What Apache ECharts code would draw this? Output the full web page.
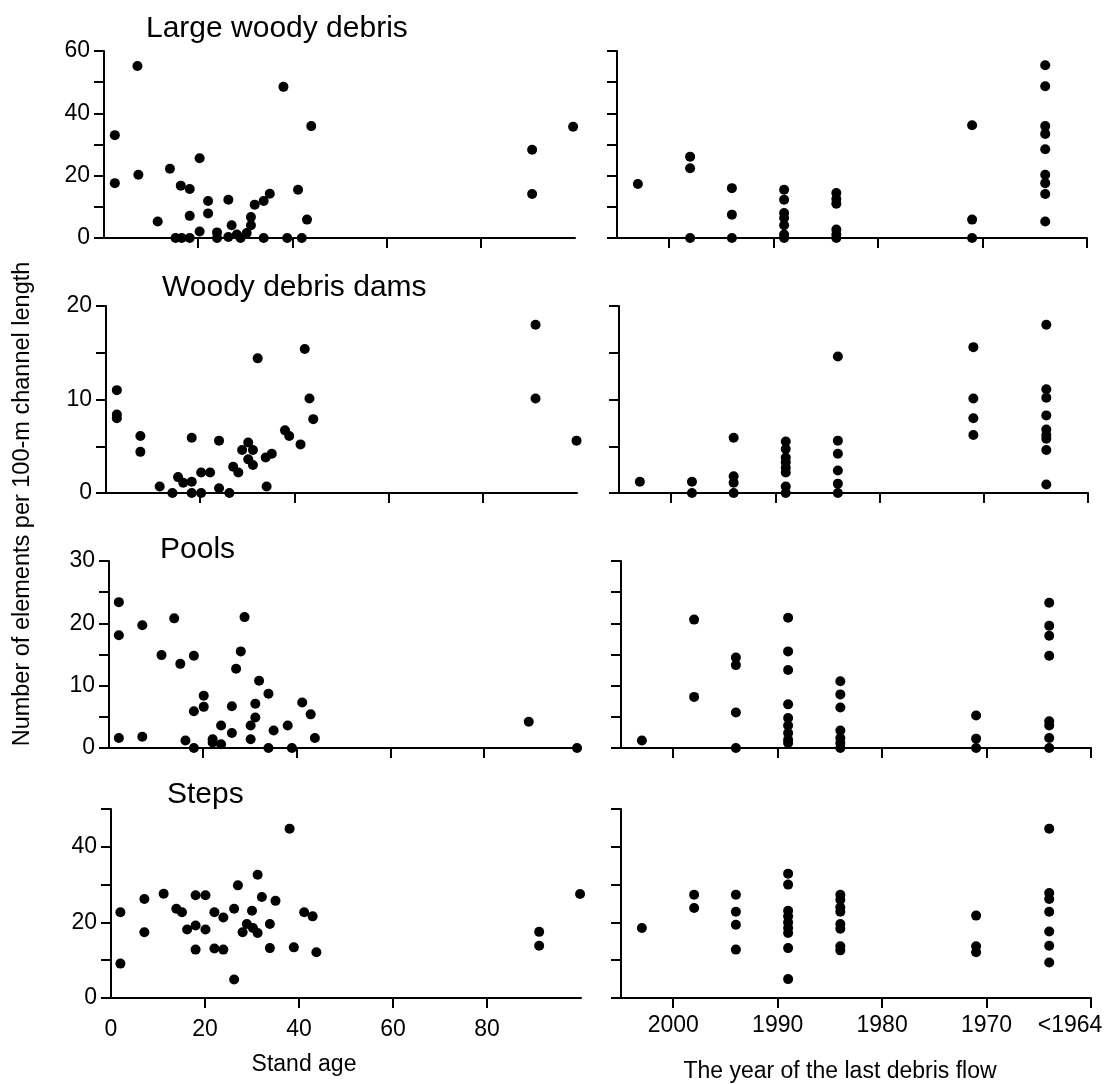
<!DOCTYPE html>
<html>
<head>
<meta charset="utf-8">
<script src="https://cdn.jsdelivr.net/npm/echarts@6/dist/echarts.min.js"></script>
<style>
  html, body { margin: 0; padding: 0; background: #fff; }
  #chart { width: 1110px; height: 1084px; }
</style>
</head>
<body>
<div id="chart"></div>
<script>
// ---- data: stand age panels, [stand age, count per 100 m] ----
var lwdByAge = [
    [2.3, 33.0], [2.3, 17.6], [7.1, 55.2], [7.3, 20.3], [11.4, 5.3], [14.0, 22.2],
    [16.3, 16.8], [18.2, 15.7], [18.2, 7.1], [15.2, 0], [16.5, 0], [18.2, 0],
    [20.3, 25.6], [20.3, 2.1], [22.1, 11.9], [22.1, 7.9], [24.0, 1.8], [24.0, 0],
    [26.4, 12.3], [27.1, 4.1], [26.4, 0.3], [28.2, 1.1], [29.0, 0], [30.3, 1.6],
    [31.2, 6.7], [31.2, 4.1], [32.0, 10.7], [33.9, 11.9], [33.9, 0], [35.2, 14.2],
    [38.1, 48.5], [38.9, 0], [41.2, 15.5], [42.0, 0], [43.1, 5.9], [44.0, 35.9],
    [90.9, 28.3], [90.9, 14.1], [99.6, 35.7]
];
var damsByAge = [
    [2.3, 11.0], [2.3, 8.4], [2.3, 8.0], [7.3, 6.1], [7.3, 4.4], [11.4, 0.7],
    [14.1, 0], [15.3, 1.7], [16.4, 1.1], [18.2, 5.9], [18.2, 1.2], [18.2, 0],
    [20.2, 2.2], [20.2, 0], [22.1, 2.2], [24.0, 5.6], [24.0, 0.5], [26.2, 0],
    [27.0, 2.8], [28.1, 2.2], [28.9, 4.6], [30.2, 5.4], [30.2, 3.6], [31.2, 4.6],
    [31.2, 3.0], [32.2, 14.4], [33.9, 3.8], [34.1, 0.7], [35.2, 4.2], [38.0, 6.7],
    [38.9, 6.1], [41.3, 5.2], [42.2, 15.4], [43.2, 10.1], [44.0, 7.9],
    [91.2, 18.0], [91.2, 10.1], [99.9, 5.6]
];
var poolsByAge = [
    [2.1, 23.4], [2.1, 18.1], [2.1, 1.6], [7.1, 19.7], [7.1, 1.8], [11.2, 14.9],
    [13.9, 20.8], [15.2, 13.5], [16.3, 1.2], [18.1, 14.8], [18.1, 5.9], [18.1, 0],
    [20.2, 8.4], [20.2, 6.6], [22.1, 1.4], [22.1, 0.9], [23.9, 3.6], [23.9, 0.6],
    [26.2, 6.7], [26.2, 2.4], [27.1, 12.7], [28.1, 15.5], [28.9, 21.0], [30.2, 3.6],
    [30.2, 1.4], [31.2, 7.1], [31.2, 4.9], [32.0, 10.8], [34.0, 8.7], [34.0, 0],
    [35.1, 2.8], [38.1, 3.6], [39.0, 0], [41.2, 7.3], [43.0, 5.4], [43.9, 1.6],
    [89.5, 4.2], [99.8, 0]
];
var stepsByAge = [
    [2.0, 22.7], [2.0, 9.1], [7.1, 26.2], [7.1, 17.4], [11.2, 27.6], [13.9, 23.6],
    [15.1, 22.7], [16.2, 18.1], [18.0, 27.2], [18.0, 19.2], [18.0, 12.8], [20.1, 27.2],
    [20.1, 18.1], [22.0, 22.7], [22.0, 13.1], [23.9, 21.3], [23.9, 12.8], [26.2, 23.6],
    [26.2, 4.9], [27.0, 29.8], [28.0, 17.4], [28.9, 19.6], [30.0, 23.1], [30.2, 18.5],
    [31.2, 32.6], [31.2, 17.2], [32.1, 26.7], [33.8, 19.6], [33.8, 13.2], [35.0, 25.7],
    [38.0, 44.8], [38.9, 13.4], [41.1, 22.7], [42.9, 21.6], [43.7, 12.1],
    [91.1, 17.5], [91.1, 13.8], [99.8, 27.5]
];

// ---- data: year of last debris flow panels ----
var flowYears = [2003, 1998, 1994, 1989, 1984, 1971, 1964];
var lwdByYear = [
    [17.3],
    [26.1, 22.4, 0],
    [16.0, 7.5, 0],
    [15.5, 12.3, 8.0, 6.4, 4.1, 1.1, 0],
    [14.4, 12.5, 11.0, 2.7, 1.1, 0],
    [36.2, 5.9, 0],
    [55.4, 48.7, 35.9, 33.4, 28.5, 20.3, 17.6, 14.1, 5.3]
];
var damsByYear = [
    [1.2],
    [1.2, 0],
    [5.9, 1.8, 1.1, 0],
    [5.5, 4.7, 3.8, 3.3, 2.7, 2.2, 0.7, 0],
    [14.6, 5.6, 4.2, 2.4, 1.0, 0],
    [15.6, 10.1, 8.0, 6.2],
    [18.0, 11.1, 10.2, 8.3, 6.8, 6.2, 5.8, 4.6, 0.9]
];
var poolsByYear = [
    [1.2],
    [20.6, 8.2],
    [14.5, 13.3, 5.7, 0],
    [20.9, 15.5, 12.5, 7.0, 4.8, 3.6, 2.4, 1.3, 0.8],
    [10.7, 8.6, 6.5, 2.8, 1.6, 0.8, 0],
    [5.2, 1.5, 0],
    [23.3, 19.6, 18.0, 14.8, 4.3, 3.6, 1.6, 0]
];
var stepsByYear = [
    [18.5],
    [27.3, 23.8],
    [27.3, 22.8, 19.4, 12.8],
    [32.9, 30.0, 23.1, 21.6, 20.0, 18.5, 17.2, 13.2, 5.0],
    [27.3, 26.0, 24.0, 22.8, 19.6, 18.3, 13.7, 12.6],
    [21.8, 13.7, 12.1],
    [44.8, 27.8, 26.2, 22.8, 17.6, 13.8, 9.4]
];

// ---- axis ticks / labels ----
var ageTicks = [20, 40, 60, 80];
var ageLabels = [0, 20, 40, 60, 80];
var yearTicks = [2000, 1990, 1980, 1970, 1960];
var titles = ['Large woody debris', 'Woody debris dams', 'Pools', 'Steps'];

var FONT = 'Liberation Sans, Arial, Helvetica, sans-serif';

// panel layout per row
var rows = [
    { age: lwdByAge, year: lwdByYear, max: 60, tick: 10, labelStep: 20,
      top: 51, h: 187, L: [104, 575], R: [617, 1087], tLeft: 141, tTop: 9 },
    { age: damsByAge, year: damsByYear, max: 20, tick: 5, labelStep: 10,
      top: 306, h: 187, L: [106, 577], R: [619, 1088], tLeft: 157, tTop: 268 },
    { age: poolsByAge, year: poolsByYear, max: 30, tick: 5, labelStep: 10,
      top: 561, h: 187, L: [109, 578], R: [621, 1091], tLeft: 155, tTop: 530 },
    { age: stepsByAge, year: stepsByYear, max: 50, tick: 10, labelStep: 20,
      top: 809, h: 189, L: [111, 581], R: [621, 1091], tLeft: 162, tTop: 775 }
];

var axisLine = { show: true, onZero: false, lineStyle: { color: '#000', width: 2 } };
var tickStyle = { color: '#000', width: 2 };

var grid = [], xAxis = [], yAxis = [], series = [], title = [];

rows.forEach(function (row, i) {
    var last = i === rows.length - 1;

    title.push({
        text: titles[i],
        left: row.tLeft,
        top: row.tTop,
        textStyle: { fontFamily: FONT, fontSize: 30, fontWeight: 'normal', color: '#000' }
    });

    // left panel: stand age
    grid.push({ left: row.L[0], top: row.top, width: row.L[1] - row.L[0], height: row.h });
    // right panel: year of last debris flow
    grid.push({ left: row.R[0], top: row.top, width: row.R[1] - row.R[0], height: row.h });

    xAxis.push({
        type: 'value', gridIndex: 2 * i, min: 0, max: 100,
        axisLine: axisLine,
        axisTick: { show: true, length: 10, lineStyle: tickStyle, customValues: ageTicks },
        axisLabel: {
            show: last, customValues: ageLabels, margin: 20,
            fontFamily: FONT, fontSize: 23, color: '#000'
        },
        splitLine: { show: false }
    });
    xAxis.push({
        type: 'value', gridIndex: 2 * i + 1, min: 1960, max: 2005, inverse: true,
        axisLine: axisLine,
        axisTick: { show: true, length: 10, lineStyle: tickStyle, customValues: yearTicks },
        axisLabel: {
            show: last, customValues: yearTicks, margin: 16,
            fontFamily: FONT, fontSize: 23, color: '#000',
            formatter: function (v) { return v === 1960 ? '{e|<1964}' : String(v); },
            rich: { e: { fontFamily: FONT, fontSize: 23, color: '#000', padding: [0, 42, 0, 0] } }
        },
        splitLine: { show: false }
    });

    [0, 1].forEach(function (side) {
        yAxis.push({
            type: 'value', gridIndex: 2 * i + side, min: 0, max: row.max, interval: row.tick,
            axisLine: axisLine,
            axisTick: { show: true, length: 10, lineStyle: tickStyle },
            axisLabel: {
                show: side === 0, margin: 14,
                fontFamily: FONT, fontSize: 23, color: '#000',
                formatter: function (v) { return v % row.labelStep === 0 ? v : ''; }
            },
            splitLine: { show: false }
        });
    });

    var yearPoints = [];
    row.year.forEach(function (vals, k) {
        vals.forEach(function (v) { yearPoints.push([flowYears[k], v]); });
    });

    var dot = { type: 'scatter', symbol: 'circle', symbolSize: 10, clip: false,
                itemStyle: { color: '#000', opacity: 1 }, silent: true };
    series.push(Object.assign({}, dot, { xAxisIndex: 2 * i, yAxisIndex: 2 * i, data: row.age }));
    series.push(Object.assign({}, dot, { xAxisIndex: 2 * i + 1, yAxisIndex: 2 * i + 1, data: yearPoints }));
});

var option = {
    backgroundColor: '#fff',
    animation: false,
    title: title,
    grid: grid,
    xAxis: xAxis,
    yAxis: yAxis,
    series: series,
    graphic: [
        {
            type: 'text', x: 23, y: 504, rotation: Math.PI / 2,
            style: {
                text: 'Number of elements per 100-m channel length',
                font: '23.5px ' + FONT, fill: '#000',
                textAlign: 'center', textVerticalAlign: 'middle'
            }
        },
        {
            type: 'text', x: 304, y: 1065,
            style: { text: 'Stand age', font: '23px ' + FONT, fill: '#000',
                     textAlign: 'center', textVerticalAlign: 'middle' }
        },
        {
            type: 'text', x: 840, y: 1072,
            style: { text: 'The year of the last debris flow', font: '23px ' + FONT, fill: '#000',
                     textAlign: 'center', textVerticalAlign: 'middle' }
        }
    ]
};

var chart = echarts.init(document.getElementById('chart'));
chart.setOption(option);
</script>
</body>
</html>
